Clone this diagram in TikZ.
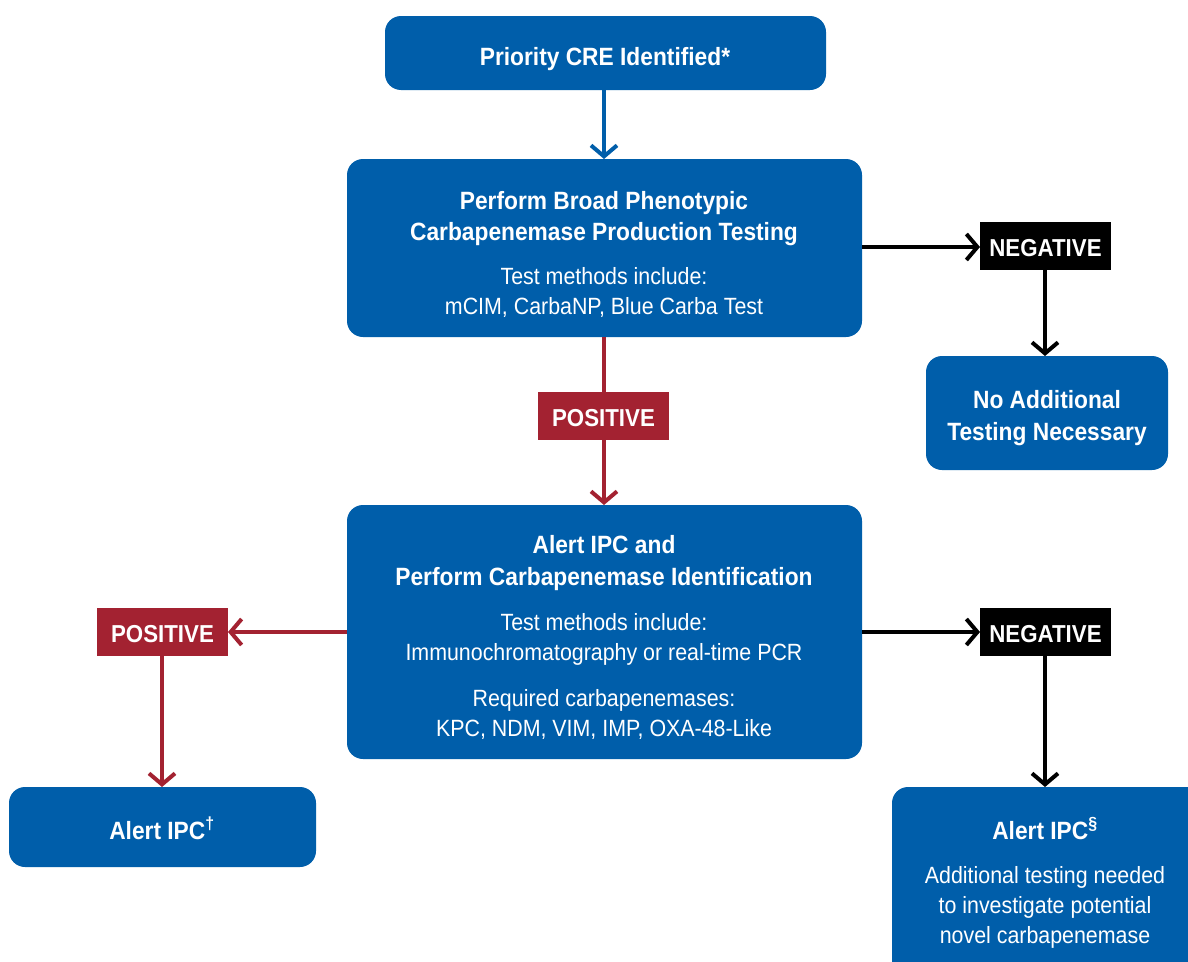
\documentclass[tikz,border=0pt]{standalone}
\usepackage{fontspec}
\setmainfont{Liberation Sans}[FakeStretch=0.91]
\usetikzlibrary{arrows.meta}
\definecolor{cblue}{RGB}{0,94,170}
\definecolor{cred}{RGB}{163,34,49}
\tikzset{
  bbox/.style={fill=cblue, rounded corners=16pt, draw=none},
  lab/.style={fill=#1, draw=none},
  hd/.style={text=white, font=\fontsize{25}{29}\selectfont\bfseries, inner sep=0pt, anchor=base},
  tx/.style={text=white, font=\fontsize{23.5}{27}\selectfont, inner sep=0pt, anchor=base},
  lt/.style={text=white, font=\fontsize{24.5}{28}\selectfont\bfseries, inner sep=0pt, anchor=base},
  conn/.style={line width=4pt, draw=#1},
  arr/.style={line width=4pt, draw=#1, -{Straight Barb[length=11pt,width=26pt]}},
}
\begin{document}
\begin{tikzpicture}[x=1pt,y=-1pt]
\useasboundingbox (0,0) rectangle (1188,961);
% boxes
\path[bbox] (385,16) rectangle (826,90);
\path[bbox] (347,159) rectangle (862,337);
\path[bbox] (926,356) rectangle (1168,470);
\path[bbox] (347,505) rectangle (862,759);
\path[bbox] (9,787) rectangle (316,867);
\path[bbox] (892,787) rectangle (1210,990);
% label boxes
\path[lab=cred] (538,392) rectangle (669,440);
\path[lab=cred] (97,608) rectangle (228,656);
\path[lab=black] (980,222) rectangle (1111,270);
\path[lab=black] (980,608) rectangle (1111,656);
% named anchors
\coordinate (top-b) at (604,90);
\coordinate (b2-t) at (604,159);
\coordinate (b2-b) at (604,337);
\coordinate (b2-r) at (862,247);
\coordinate (pos1-t) at (604,392);
\coordinate (pos1-b) at (604,440);
\coordinate (b3-t) at (604,505);
\coordinate (b3-l) at (347,632);
\coordinate (b3-r) at (862,632);
\coordinate (neg1-l) at (980,247);
\coordinate (neg1-b) at (1045,270);
\coordinate (noadd-t) at (1045,356);
\coordinate (pos2-r) at (228,632);
\coordinate (pos2-b) at (162,656);
\coordinate (alt-t) at (162,787);
\coordinate (neg2-l) at (980,632);
\coordinate (neg2-b) at (1045,656);
\coordinate (als-t) at (1045,787);
% connectors
\draw[arr=cblue] (top-b) -- (b2-t);
\draw[conn=cred] (b2-b) -- (pos1-t);
\draw[arr=cred] (pos1-b) -- (b3-t);
\draw[arr=black] (b2-r) -- (neg1-l);
\draw[arr=black] (neg1-b) -- (noadd-t);
\draw[arr=cred] (b3-l) -- (pos2-r);
\draw[arr=cred] (pos2-b) -- (alt-t);
\draw[arr=black] (b3-r) -- (neg2-l);
\draw[arr=black] (neg2-b) -- (als-t);
% texts
\node[hd] (t1) at (605,65) {Priority CRE Identified*};
\node[hd] (t2a) at (604,209) {Perform Broad Phenotypic};
\node[hd] (t2b) at (604,240) {Carbapenemase Production Testing};
\node[tx] (t2c) at (604,284) {Test methods include:};
\node[tx] (t2d) at (604,314) {mCIM, CarbaNP, Blue Carba Test};
\node[lt] (n1) at (1045.5,256) {NEGATIVE};
\node[hd] (t4a) at (1047,408) {No Additional};
\node[hd] (t4b) at (1047,440) {Testing Necessary};
\node[lt] (p1) at (603.5,426) {POSITIVE};
\node[hd] (t3a) at (604,553) {Alert IPC and};
\node[hd] (t3b) at (604,585) {Perform Carbapenemase Identification};
\node[tx] (t3c) at (604,630) {Test methods include:};
\node[tx] (t3d) at (604,660) {Immunochromatography or real-time PCR};
\node[tx] (t3e) at (604,706) {Required carbapenemases:};
\node[tx] (t3f) at (604,736) {KPC, NDM, VIM, IMP, OXA-48-Like};
\node[lt] (p2) at (162.5,642) {POSITIVE};
\node[lt] (n2) at (1045.5,642) {NEGATIVE};
\node[hd] (t5) at (162,839) {Alert IPC\textsuperscript{†}};
\node[hd] (t6a) at (1045,839) {Alert IPC\textsuperscript{§}};
\node[tx] (t6b) at (1045,883) {Additional testing needed};
\node[tx] (t6c) at (1045,913) {to investigate potential};
\node[tx] (t6d) at (1045,943) {novel carbapenemase};
\end{tikzpicture}
\end{document}
